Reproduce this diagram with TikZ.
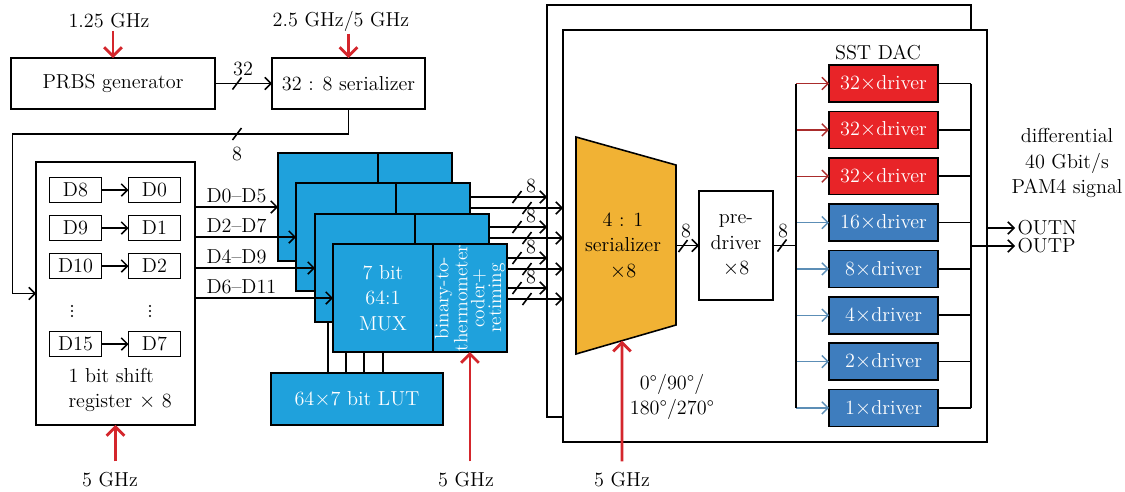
\documentclass[tikz,border=0pt]{standalone}
\usetikzlibrary{arrows.meta,calc}

\definecolor{muxblue}{RGB}{31,161,220}
\definecolor{drvred}{RGB}{232,36,40}
\definecolor{drvblue}{RGB}{62,125,190}
\definecolor{serorange}{RGB}{241,178,52}
\definecolor{clkred}{RGB}{212,38,44}
\definecolor{tapred}{RGB}{170,44,44}
\definecolor{tapblue}{RGB}{92,142,182}

\newcommand{\busmark}[1]{\draw #1 ++(-4.5,6) -- ++(9,-12);}
\newcommand{\dotcol}[1]{\foreach \dy in {-5,0,5} \fill (#1,311+\dy) circle (0.7pt);}

\begin{document}
\begin{tikzpicture}[
            x=0.02cm, y=-0.02cm,
            line width=0.9pt,
            >={Straight Barb[length=3.5pt,width=7pt]},
            every node/.style={
                font=\fontsize{11.5}{14.5}\selectfont,
                inner sep=1pt,
                align=center
            },
            blk/.style={draw, fill=white, inner sep=0pt, outer sep=0pt},
            mux/.style={blk, fill=muxblue, minimum width=2cm, minimum height=2.16cm},
            dreg/.style={blk, minimum width=1.04cm, minimum height=0.5cm},
            drv/.style={blk, text=white, minimum width=2.18cm, minimum height=0.74cm},
            clk/.style={draw=clkred, line width=1.6pt, -{Straight Barb[length=5pt,width=10pt]}}
        ]
            \useasboundingbox (0,0) rectangle (1125,491);

            \node[blk, fill=none, minimum width=8.48cm, minimum height=8.24cm] (back) at (759,211) {};
            \node[blk, minimum width=8.48cm, minimum height=8.24cm] (front) at (775,236) {};

            \node[blk, minimum width=4.08cm, minimum height=1.02cm] (prbs) at (113,83.5) {PRBS generator};
            \node[blk, minimum width=3.06cm, minimum height=1.02cm] (ser) at (348.5,83.5) {32 : 8 serializer};
            \node (f1) at (109,21) {1.25 GHz};
            \node (f2) at (341,21) {2.5 GHz/5 GHz};
            \draw[clk] (prbs.north |- f1.south) -- (prbs.north);
            \draw[clk] (ser.north |- f2.south) -- (ser.north);

            \draw[->] (prbs) -- (ser);
            \busmark{(237,83.5)}
            \node at (243,69) {32};

            \node[blk, minimum width=3.18cm, minimum height=5.26cm] (shift) at (115.5,293.5) {};
            \draw[->] (ser.south) |- (12.5,134) |- (shift.west);
            \busmark{(237,134)}
            \node at (237,154) {8};

            \foreach \r/\a/\b/\y in {1/D8/D0/190, 2/D9/D1/228, 3/D10/D2/266, 4/D15/D7/344} {
                \node[dreg] (da\r) at (75.5,\y) {\a};
                \node[dreg] (db\r) at (154.5,\y) {\b};
                \draw[->] (da\r) -- (db\r);
            }
            \dotcol{72}
            \dotcol{150}
            \node[anchor=west, align=left] (shlab) at (66,390) {1 bit shift\\register $\times$ 8};
            \node (c1) at (110,480) {5 GHz};
            \draw[clk] ([yshift=5pt]c1.north -| shift.south) -- (shift.south);

            \foreach \k/\x/\y/\lab in {1/278/153/D0--D5, 2/296/183/D2--D7, 3/315/214/D4--D9, 4/333/244/D6--D11} {
                \node[mux, anchor=north west] (mux\k) at (\x,\y) {};
                \node[mux, minimum width=1.48cm, anchor=north west] (cod\k) at (mux\k.north east) {};
                \draw[->] (shift.east |- 0,\y+54) -- (mux\k.west |- 0,\y+54);
                \node[anchor=south west] at (204,\y+52) {\lab};
                \draw[->] (cod\k.east |- 0,\y+44) -- (back.west |- 0,\y+44);
                \draw[->] (cod\k.east |- 0,\y+55) -- (front.west |- 0,\y+55);
                \busmark{(517,\y+44)}
                \busmark{(527,\y+55)}
                \node at (531,\y+33) {8};
            }
            \node[text=white] at (mux4) {7 bit\\64:1\\MUX};
            \node[text=white, rotate=90, font=\fontsize{11}{9.6}\selectfont] at (cod4) {binary-to-\\thermometer\\coder+\\retiming};

            \node[blk, fill=muxblue, text=white, minimum width=3.44cm, minimum height=1.04cm] (lut) at (357,399) {64$\times$7 bit LUT};
            \draw (lut.north -| 328,0) -- (mux3.south -| 328,0);
            \foreach \lx in {346,364,383}
                \draw (lut.north -| \lx,0) -- (mux4.south -| \lx,0);
            \node (c2) at (466,480) {5 GHz};
            \draw[clk] ([yshift=5pt]c2.north -| cod4.south) -- (cod4.south);

            \draw[fill=serorange] (576,137) coordinate (t1) -- (676,165) coordinate (t2)
                -- (676,325) coordinate (t3) -- (576,354) coordinate (t4) -- cycle;
            \node (ser4) at (623,246) {4 : 1\\serializer\\$\times$8};
            \node (c3) at (622,480) {5 GHz};
            \draw[clk] ([yshift=5pt]c3.north) -- ($(t4)!0.46!(t3)$);
            \node at (672,397) {0\textdegree/90\textdegree/\\180\textdegree/270\textdegree};

            \node[blk, minimum width=1.48cm, minimum height=2.18cm] (pre) at (736,245.5) {pre-\\driver\\$\times$8};
            \draw[->] (t2 |- pre.west) -- (pre.west);
            \busmark{(683,246)}
            \node at (686,231) {8};

            \node (dac) at (878,52) {SST DAC};
            \foreach \i/\n/\c/\t in {1/32/drvred/tapred, 2/32/drvred/tapred, 3/32/drvred/tapred,
                    4/16/drvblue/tapblue, 5/8/drvblue/tapblue, 6/4/drvblue/tapblue,
                    7/2/drvblue/tapblue, 8/1/drvblue/tapblue} {
                \node[drv, fill=\c] (d\i) at (883.5,{83.5+46.35*(\i-1)}) {\n$\times$driver};
                \draw[->, draw=\t, line width=0.8pt] (d\i.west -| 796,0) -- (d\i.west);
                \draw (d\i.east) -- (d\i.east -| 971,0);
            }
            \draw (pre.east) -- (pre.east -| 796,0);
            \busmark{(782,245.5)}
            \node at (783,231) {8};
            \draw (d1.west -| 796,0) -- (d8.west -| 796,0);
            \draw (d1.east -| 971,0) coordinate (sum) -- (d8.east -| 971,0);

            \node[anchor=west] (outn) at (1015,228) {OUTN};
            \node[anchor=west] (outp) at (1015,246) {OUTP};
            \draw[->] (front.east |- outn.west) -- (outn.west);
            \draw[->] (sum |- outp.west) -- (outp.west);
            \node (sig) at (1067,163) {differential\\40 Gbit/s\\PAM4 signal};
        \end{tikzpicture}
\end{document}
